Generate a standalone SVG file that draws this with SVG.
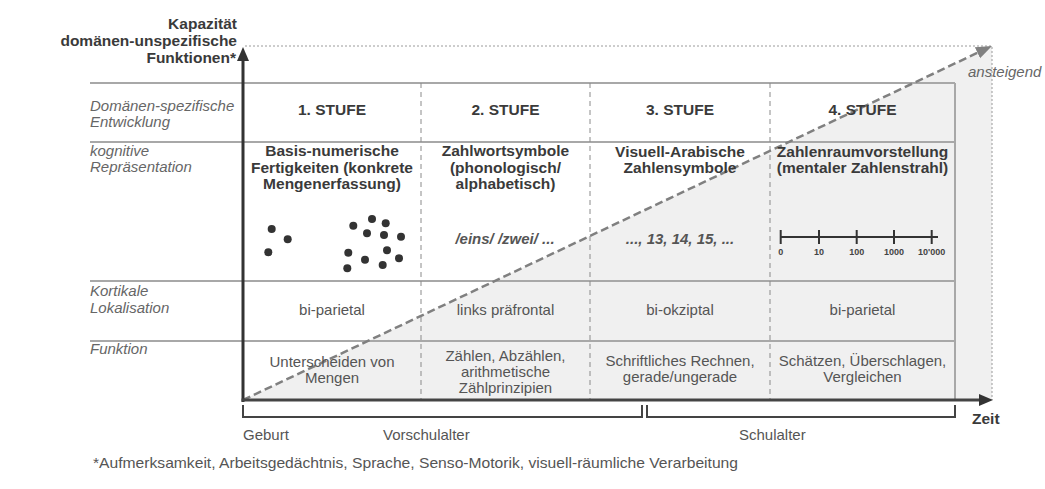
<svg xmlns="http://www.w3.org/2000/svg" width="1045" height="489" viewBox="0 0 1045 489">
<style>
text{font-family:"Liberation Sans",Arial,sans-serif}
.b{font-weight:bold;font-size:15.5px;fill:#3a3a3a}
.h{font-weight:bold;font-size:15.5px;fill:#3a3a3a;text-anchor:middle}
.r{font-size:15px;fill:#555;text-anchor:middle}
.l{font-size:15px;font-style:italic;fill:#666}
.bi{font-size:15px;font-weight:bold;font-style:italic;fill:#555;text-anchor:middle}
.n{font-size:9px;font-weight:bold;fill:#444;text-anchor:middle}
.t{font-size:15px;fill:#555}
.row{stroke:#a8a8a8;stroke-width:2;fill:none}
.col{stroke:#8a8a8a;stroke-width:1;stroke-dasharray:5 4;fill:none}
.dot{fill:#333}
</style>
<defs>
<marker id="ah" markerUnits="userSpaceOnUse" markerWidth="14" markerHeight="14" refX="0" refY="6" orient="auto">
<path d="M0,0 L14,6 L0,12 z" fill="#333"/>
</marker>
<marker id="ag" markerUnits="userSpaceOnUse" markerWidth="16" markerHeight="14" refX="0" refY="6" orient="auto">
<path d="M0,0 L16,6 L0,12 z" fill="#808080"/>
</marker>
</defs>
<rect width="1045" height="489" fill="#fff"/>
<polygon points="243,400 992,46 992,400" fill="#f0f0f0"/>
<g id="frame">
<path d="M245,46 H992 V400" stroke="#9a9a9a" stroke-width="1" stroke-dasharray="2 2" fill="none"/>
<path class="row" d="M90,83 H955 M90,142 H955 M90,281 H955 M90,341 H955 M955,83 V400"/>
<path class="col" d="M421,83 V400 M590,83 V400 M770,83 V400"/>
</g>
<g id="connectors">
<line x1="243" y1="400" x2="977.5" y2="52.8" stroke="#808080" stroke-width="2.5" stroke-dasharray="8 4" marker-end="url(#ag)"/>
<line x1="243" y1="402" x2="243" y2="61" stroke="#333" stroke-width="3" marker-end="url(#ah)"/>
<line x1="241.5" y1="400" x2="979" y2="400" stroke="#444" stroke-width="3" marker-end="url(#ah)"/>
<path d="M243,405 V417 H642 V405 M647,405 V417 H955 V405" stroke="#444" stroke-width="2" fill="none"/>
</g>
<g id="y-label">
<text class="b" x="237" y="29" text-anchor="end">Kapazität</text>
<text class="b" x="237" y="46" text-anchor="end">domänen-unspezifische</text>
<text class="b" x="236" y="63" text-anchor="end">Funktionen*</text>
</g>
<g id="row-labels">
<text class="l" x="90" y="111">Domänen-spezifische</text>
<text class="l" x="90" y="127">Entwicklung</text>
<text class="l" x="90" y="156">kognitive</text>
<text class="l" x="90" y="172">Repräsentation</text>
<text class="l" x="90" y="296">Kortikale</text>
<text class="l" x="90" y="313">Lokalisation</text>
<text class="l" x="90" y="354">Funktion</text>
</g>
<g id="stufe1">
<text class="h" x="332" y="115">1. STUFE</text>
<text class="h" x="332" y="156">Basis-numerische</text>
<text class="h" x="332" y="172.5">Fertigkeiten (konkrete</text>
<text class="h" x="332" y="189">Mengenerfassung)</text>
<circle class="dot" cx="271.7" cy="229" r="4"/>
<circle class="dot" cx="287.7" cy="239.3" r="4"/>
<circle class="dot" cx="268.3" cy="252.3" r="4"/>
<circle class="dot" cx="353.3" cy="225.7" r="4"/>
<circle class="dot" cx="372" cy="219" r="4"/>
<circle class="dot" cx="385.7" cy="223.3" r="4"/>
<circle class="dot" cx="367" cy="233.3" r="4"/>
<circle class="dot" cx="384" cy="235" r="4"/>
<circle class="dot" cx="401" cy="236.7" r="4"/>
<circle class="dot" cx="348.3" cy="252.7" r="4"/>
<circle class="dot" cx="387" cy="250.3" r="4"/>
<circle class="dot" cx="399" cy="258.3" r="4"/>
<circle class="dot" cx="365" cy="259.7" r="4"/>
<circle class="dot" cx="382.7" cy="265" r="4"/>
<circle class="dot" cx="347.3" cy="268.3" r="4"/>
<text class="r" x="332" y="315">bi-parietal</text>
<text class="r" x="332" y="367">Unterscheiden von</text>
<text class="r" x="332" y="383">Mengen</text>
</g>
<g id="stufe2">
<text class="h" x="505.5" y="115">2. STUFE</text>
<text class="h" x="505.5" y="156">Zahlwortsymbole</text>
<text class="h" x="505.5" y="172.5">(phonologisch/</text>
<text class="h" x="505.5" y="189">alphabetisch)</text>
<text class="bi" x="505" y="244">/eins/ /zwei/ ...</text>
<text class="r" x="505.5" y="315">links präfrontal</text>
<text class="r" x="505.5" y="361">Zählen, Abzählen,</text>
<text class="r" x="505.5" y="377">arithmetische</text>
<text class="r" x="505.5" y="393">Zählprinzipien</text>
</g>
<g id="stufe3">
<text class="h" x="680" y="115">3. STUFE</text>
<text class="h" x="680" y="157">Visuell-Arabische</text>
<text class="h" x="680" y="173">Zahlensymbole</text>
<text class="bi" x="680" y="244">..., 13, 14, 15, ...</text>
<text class="r" x="680" y="315">bi-okziptal</text>
<text class="r" x="680" y="366">Schriftliches Rechnen,</text>
<text class="r" x="680" y="382">gerade/ungerade</text>
</g>
<g id="stufe4">
<text class="h" x="862.5" y="115">4. STUFE</text>
<text class="h" x="862.5" y="157">Zahlenraumvorstellung</text>
<text class="h" x="862.5" y="173">(mentaler Zahlenstrahl)</text>
<path d="M780.7,237 H938 M780.7,230 V244 M819,230 V244 M856.7,230 V244 M894,230 V244 M931.7,230 V244" stroke="#333" stroke-width="2" fill="none"/>
<text class="n" x="780.7" y="255">0</text>
<text class="n" x="819" y="255">10</text>
<text class="n" x="856.7" y="255">100</text>
<text class="n" x="894" y="255">1000</text>
<text class="n" x="931.7" y="255">10'000</text>
<text class="r" x="862.5" y="315">bi-parietal</text>
<text class="r" x="862.5" y="366">Schätzen, Überschlagen,</text>
<text class="r" x="862.5" y="382">Vergleichen</text>
</g>
<g id="axis-labels">
<text class="l" x="968" y="77">ansteigend</text>
<text class="b" x="972" y="424">Zeit</text>
<text class="t" x="243" y="440">Geburt</text>
<text class="t" x="383" y="440">Vorschulalter</text>
<text class="t" x="739" y="440">Schulalter</text>
</g>
<g id="footnote">
<text class="t" x="93" y="468" font-size="14.5" textLength="645" lengthAdjust="spacingAndGlyphs">*Aufmerksamkeit, Arbeitsgedächtnis, Sprache, Senso-Motorik, visuell-räumliche Verarbeitung</text>
</g>
</svg>
